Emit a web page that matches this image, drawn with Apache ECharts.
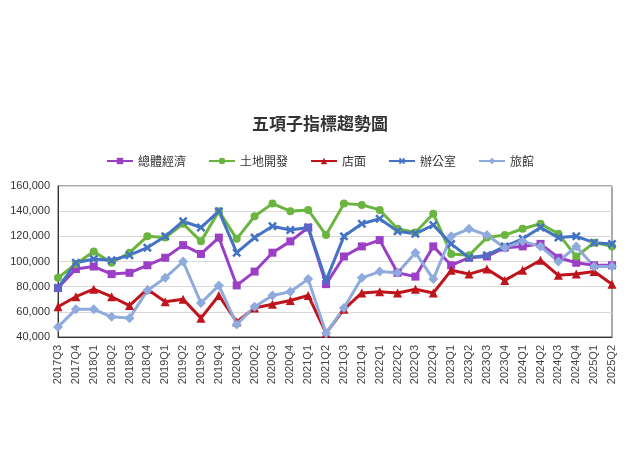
<!DOCTYPE html>
<html>
<head>
<meta charset="utf-8">
<script src="https://cdn.jsdelivr.net/npm/echarts@6/dist/echarts.min.js"></script>
<style>html,body{margin:0;background:#fff}#chart{width:640px;height:460px}</style>
</head>
<body>
<div id="chart"></div>
<script>
var quarters = [];
[2017, 2018, 2019, 2020, 2021, 2022, 2023, 2024, 2025].forEach(function (y) {
  for (var q = 1; q <= 4; q++) quarters.push(y + 'Q' + q);
});
quarters = quarters.slice(2, 34);

var totalIndex = [79, 94, 96, 90, 91, 97, 103, 113, 106, 119, 81, 92, 107, 116, 127, 82, 104, 112, 117, 91, 88, 112, 97, 103, 104, 111, 112, 114, 103, 99, 97, 97];
var landDev = [87, 98, 108, 99, 107, 120, 119, 130, 116, 140, 118, 136, 146, 140, 141, 121, 146, 145, 141, 126, 123, 138, 106, 105, 119, 121, 126, 130, 122, 104, 115, 112];
var shops = [64, 72, 78, 72, 65, 78, 68, 70, 55, 73, 52, 63, 66, 69, 73, 43, 62, 75, 76, 75, 78, 75, 93, 90, 94, 85, 93, 101, 89, 90, 92, 82];
var offices = [79, 99, 102, 101, 105, 111, 120, 132, 127, 140, 107, 119, 128, 125, 127, 85, 120, 130, 134, 124, 122, 129, 114, 103, 105, 112, 118, 127, 119, 120, 115, 114];
var hotels = [48, 62, 62, 56, 55, 77, 87, 100, 67, 81, 50, 64, 73, 76, 86, 43, 63, 87, 92, 91, 107, 86, 120, 126, 121, 111, 116, 112, 100, 112, 96, 96];

function k(arr) { return arr.map(function (v) { return v * 1000; }); }

function line(name, data, color, symbol, size) {
  return {
    name: name, type: 'line', data: k(data),
    symbol: symbol, symbolSize: size,
    lineStyle: { color: color, width: 3 },
    itemStyle: { color: color }
  };
}

var xMark = 'path://M2,0L5,3L8,0L10,2L7,5L10,8L8,10L5,7L2,10L0,8L3,5L0,2Z';

var chart = echarts.init(document.getElementById('chart'));
chart.setOption({
  animation: false,
  title: {
    text: '五項子指標趨勢圖', left: 'center', top: 110,
    textStyle: { fontSize: 17, fontWeight: 'bold', color: '#333', fontFamily: 'Noto Sans CJK TC' }
  },
  legend: {
    top: 150, left: 'center', itemGap: 22, itemWidth: 26, itemHeight: 8,
    textStyle: { fontSize: 12, color: '#333', fontFamily: 'Noto Sans CJK TC' }
  },
  grid: { left: 58, right: 28, top: 186, bottom: 123, show: true, borderColor: '#555', borderWidth: 1 },
  xAxis: {
    type: 'category', data: quarters, boundaryGap: false,
    axisLine: { lineStyle: { color: '#333' } },
    axisTick: { show: false },
    axisLabel: { rotate: 90, fontSize: 11, color: '#444', interval: 0 }
  },
  yAxis: {
    type: 'value', min: 40000, max: 160000, interval: 20000,
    axisLine: { show: true, lineStyle: { color: '#333' } },
    splitLine: { lineStyle: { color: '#d9d9d9' } },
    axisLabel: {
      fontSize: 11, color: '#333',
      formatter: function (v) { return v.toLocaleString('en-US'); }
    }
  },
  series: [
    line('總體經濟', totalIndex, '#9b3fc6', 'rect', 8),
    line('土地開發', landDev, '#6ab53f', 'circle', 8),
    line('店面', shops, '#c0141c', 'triangle', 9),
    line('辦公室', offices, '#4472c4', xMark, 9),
    line('旅館', hotels, '#8faadc', 'diamond', 10)
  ]
});
</script>
</body>
</html>
